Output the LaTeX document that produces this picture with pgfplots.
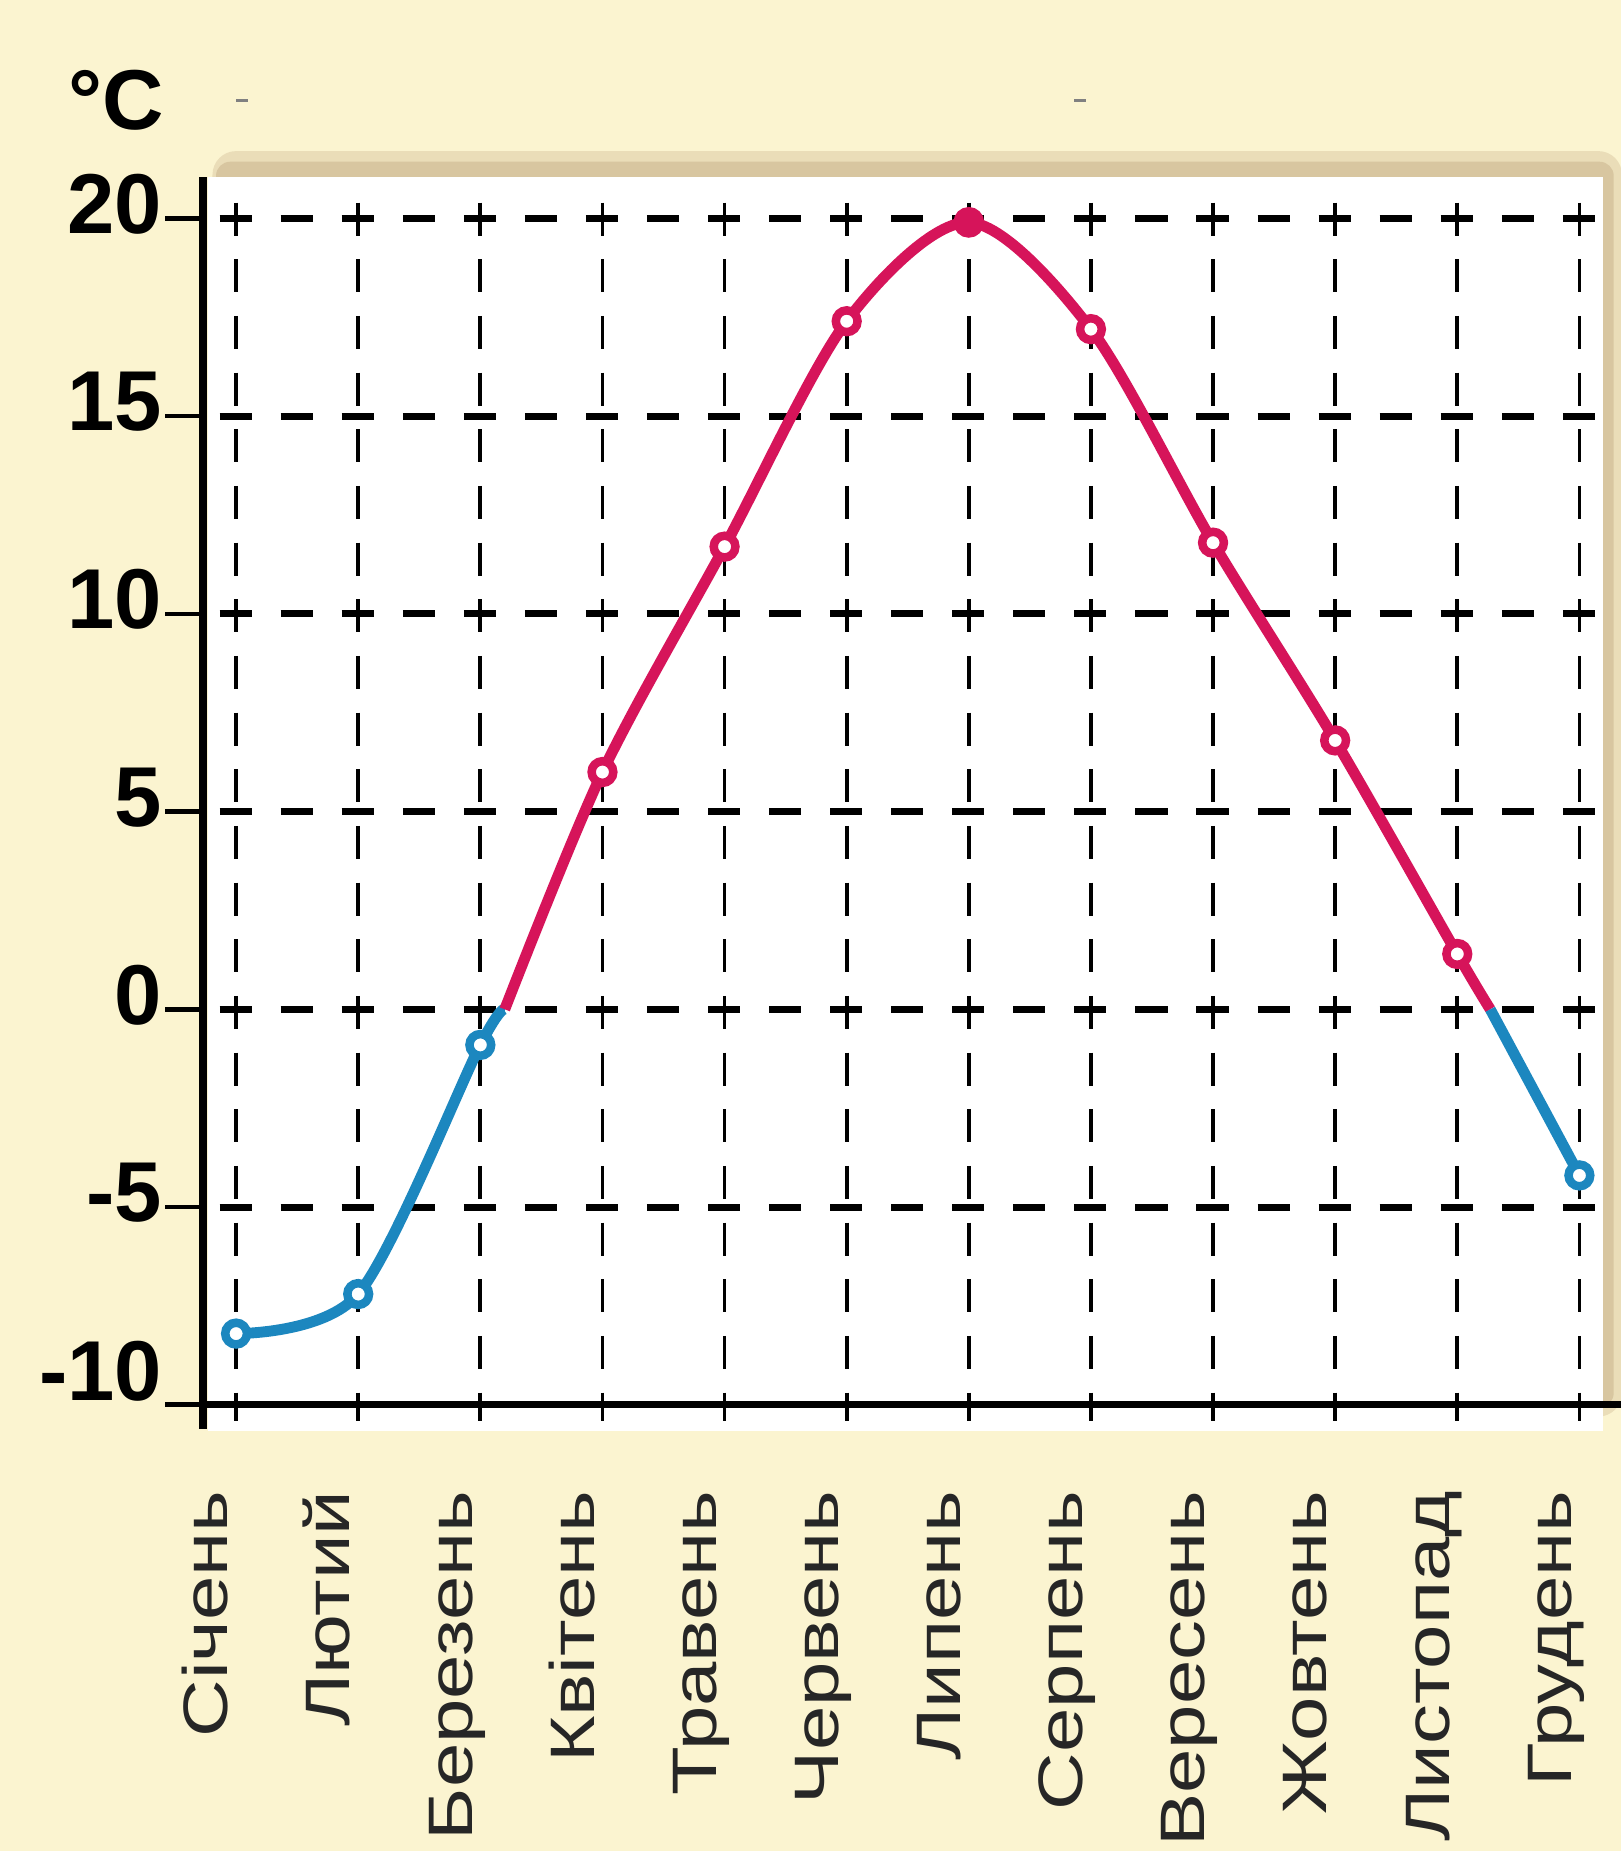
\documentclass[border=0pt]{standalone}
\usepackage{fontspec}
\setmainfont{Liberation Sans}
\newfontfamily\monthfont[FakeStretch=1.27]{Liberation Sans}
\usepackage{pgfplots}
\pgfplotsset{compat=1.18}
\definecolor{bg}{HTML}{FBF4D0}
\definecolor{shadowA}{HTML}{EADDB8}
\definecolor{shadowB}{HTML}{D8C6A0}
\definecolor{tred}{HTML}{D6145A}
\definecolor{tblue}{HTML}{1C87BF}
\begin{document}
\begin{tikzpicture}
\useasboundingbox (0,0) rectangle (343.25pt,392pt);
\clip (0,0) rectangle (343.25pt,392pt);
\fill[bg] (0,0) rectangle (343.25pt,392pt);
\fill[shadowA, rounded corners=5pt] (45pt,92pt) rectangle (343.5pt,360pt);
\fill[shadowB, rounded corners=3pt] (45.75pt,94pt) rectangle (341.75pt,357.75pt);
\fill[white] (44pt,89pt) rectangle (339.5pt,354.5pt);
\node[font=\bfseries\fontsize{18}{20}\selectfont, inner sep=0pt] at (24.5pt,370.75pt) {°C};
\draw[gray, line width=0.5pt] (50pt,370.75pt) -- (52.5pt,370.75pt);
\draw[gray, line width=0.5pt] (227.5pt,370.75pt) -- (230pt,370.75pt);
\begin{axis}[
  at={(43pt,94.5pt)}, anchor=south west,
  scale only axis, width=300.25pt, height=260pt,
  xmin=-0.2707, xmax=11.339, ymin=-10, ymax=21.045,
  clip=false,
  axis line style={draw=none},
  major tick length=0pt,
  xtick={0,1,2,3,4,5,6,7,8,9,10,11},
  xticklabels={Січень,Лютий,Березень,Квітень,Травень,Червень,Липень,Серпень,Вересень,Жовтень,Листопад,Грудень},
  ytick={-5,0,5,10,15,20},
  yticklabels={-5,0,5,10,15,20},
  extra y ticks={-10}, extra y tick labels={-10},
  extra y tick style={yticklabel style={yshift=4pt}},
  xtick pos=bottom, ytick pos=left,
  xticklabel style={xshift=-1.75pt, rotate=90, anchor=base east, inner sep=0pt, text=black!85, font=\monthfont\fontsize{13.3}{14}\selectfont},
  xticklabel shift=18pt,
  yticklabel style={anchor=east, inner sep=0pt, yshift=3pt, font=\bfseries\fontsize{18}{20}\selectfont},
  yticklabel shift=8.5pt,
]
\pgfplotsinvokeforeach{-5,0,5,10,15,20}{
  \draw[black, line width=1.5pt, dash pattern=on 6.8pt off 6.13pt] (axis cs:-0.135,#1) -- (axis cs:11.339,#1);
}
\pgfplotsinvokeforeach{0,1,2,3,4,5,6,7,8,9,10,11}{
  \draw[black, line width=0.8pt, dash pattern=on 7pt off 5pt] (axis cs:#1,20.4) -- (axis cs:#1,-10.42);
}
\draw[black, line width=1.75pt] (axis cs:-0.2707,21.045) -- (axis cs:-0.2707,-10.6);
\draw[black, line width=1.5pt] (axis cs:-0.2707,-10) -- (axis cs:11.339,-10);
\pgfplotsinvokeforeach{-10,-5,0,5,10,15,20}{
  \draw[black, line width=1pt] (axis cs:-0.2707,#1) -- ++(-8pt,0pt);
}
\addplot[tblue, line width=2.3pt, smooth] coordinates {(0,-8.2) (1,-7.2) (2,-0.9) (2.2,0)};
\addplot[tred, line width=2.3pt, smooth] coordinates {(2.2,0) (3,6.0) (4,11.7) (5,17.4) (6,19.9) (7,17.2) (8,11.8) (9,6.8) (10,1.4) (10.27,0)};
\addplot[tblue, line width=2.3pt, smooth] coordinates {(10.27,0) (11,-4.2)};
\addplot[only marks, mark=*, mark size=2.3pt, mark options={draw=tblue, fill=white, line width=1.8pt}] coordinates {(0,-8.2) (1,-7.2) (2,-0.9) (11,-4.2)};
\addplot[only marks, mark=*, mark size=2.3pt, mark options={draw=tred, fill=white, line width=1.8pt}] coordinates {(3,6.0) (4,11.7) (5,17.4) (7,17.2) (8,11.8) (9,6.8) (10,1.4)};
\addplot[only marks, mark=*, mark size=2.5pt, mark options={draw=tred, fill=tred, line width=1.5pt}] coordinates {(6,19.9)};
\end{axis}
\end{tikzpicture}
\end{document}
